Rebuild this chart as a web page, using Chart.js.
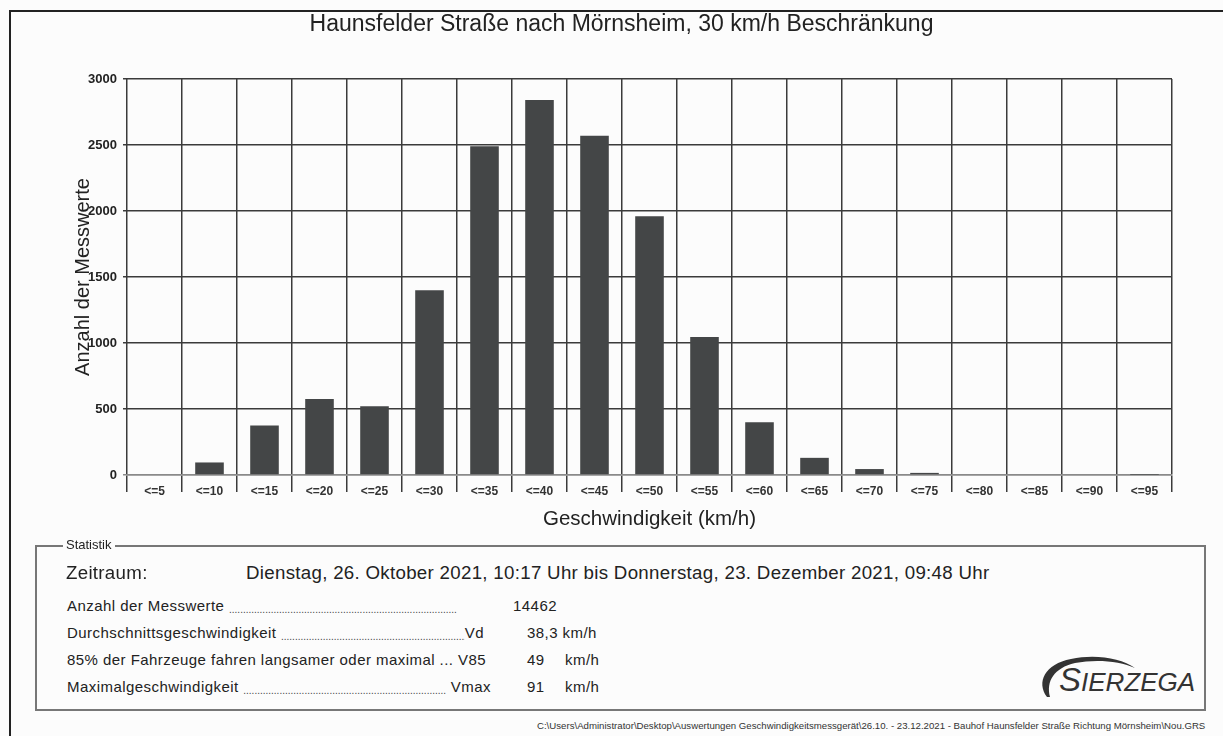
<!DOCTYPE html>
<html lang="de">
<head>
<meta charset="utf-8">
<title>Haunsfelder Straße nach Mörnsheim</title>
<script src="https://cdn.jsdelivr.net/npm/chart.js@4.4.1/dist/chart.umd.min.js"></script>
<style>
  body { margin: 0; background: #fcfcfc; font-family: 'Liberation Sans', Arial, sans-serif; color: #222; }
  #page { position: relative; width: 1223px; height: 736px; overflow: hidden; }
  #frame { position: absolute; left: 9px; top: 10px; width: 1300px; height: 800px; border-left: 2px solid #222; border-top: 2px solid #222; }
  #chartBox { position: absolute; left: 0; top: 0; width: 1223px; height: 540px; }
  #stats { position: absolute; left: 35px; top: 545px; width: 1167px; height: 162px; border: 2px solid #777; }
  .abs { position: absolute; white-space: nowrap; }
  #statLabel { left: 63px; top: 537px; font-size: 13px; line-height: 16px; background: #fcfcfc; padding: 0 3px; }
  .big { font-size: 18.7px; line-height: 22px; letter-spacing: 0.3px; }
  .row { font-size: 15px; line-height: 20px; letter-spacing: 0.45px; }
  .lead { display: flex; }
  .dots { flex: 1; overflow: hidden; font-size: 10px; letter-spacing: 0; padding-top: 4px; color: #444; }
  #footer { right: 18px; top: 720px; font-size: 9px; line-height: 12px; transform-origin: right center; color: #333; }
  #logo { position: absolute; left: 1035px; top: 647px; }
</style>
</head>
<body>
<div id="page">
  <div id="frame"></div>
  <div id="chartBox"><canvas id="speedChart"></canvas></div>

  <div id="stats"></div>
  <div class="abs" id="statLabel">Statistik</div>
  <div class="abs big" style="left:66px; top:562px;">Zeitraum:</div>
  <div class="abs big" style="left:246px; top:562px;">Dienstag, 26. Oktober 2021, 10:17 Uhr bis Donnerstag, 23. Dezember 2021, 09:48 Uhr</div>

  <div class="abs row lead" style="left:67px; top:596px; width:390px;"><span>Anzahl der Messwerte&nbsp;</span><span class="dots">..............................................................................................................</span></div>
  <div class="abs row" style="left:513px; top:596px;">14462</div>

  <div class="abs row lead" style="left:67px; top:623px; width:417px;"><span>Durchschnittsgeschwindigkeit&nbsp;</span><span class="dots">..............................................................................................................</span><span>Vd</span></div>
  <div class="abs row" style="left:527px; top:623px;">38,3 km/h</div>

  <div class="abs row" style="left:67px; top:650px;">85% der Fahrzeuge fahren langsamer oder maximal ... V85</div>
  <div class="abs row" style="left:527px; top:650px;">49</div>
  <div class="abs row" style="left:565px; top:650px;">km/h</div>

  <div class="abs row lead" style="left:67px; top:677px; width:424px;"><span>Maximalgeschwindigkeit&nbsp;</span><span class="dots">..............................................................................................................</span><span>&nbsp;Vmax</span></div>
  <div class="abs row" style="left:527px; top:677px;">91</div>
  <div class="abs row" style="left:565px; top:677px;">km/h</div>

  <svg id="logo" width="170" height="56" viewBox="0 0 170 56">
    <path d="M 12 50 C 1 35, 10 17, 36 12 C 60 7, 86 11, 100 21 C 85 14, 61 12, 40 16 C 19 21, 11 34, 15 50 Z" fill="#333"/>
    <text x="24" y="44" font-family="Liberation Sans, Arial, sans-serif" font-style="italic" fill="#333"><tspan font-size="33">S</tspan><tspan font-size="26">IERZEGA</tspan></text>
  </svg>

  <div class="abs" id="footer">C:\Users\Administrator\Desktop\Auswertungen Geschwindigkeitsmessgerät\26.10. - 23.12.2021 - Bauhof Haunsfelder Straße Richtung Mörnsheim\Nou.GRS</div>
</div>

<script>
// Geschwindigkeitsklassen und Anzahl der Messwerte je Klasse
const speedClasses = ['<=5', '<=10', '<=15', '<=20', '<=25', '<=30', '<=35', '<=40', '<=45', '<=50',
                      '<=55', '<=60', '<=65', '<=70', '<=75', '<=80', '<=85', '<=90', '<=95'];
const counts = [0, 95, 375, 575, 520, 1400, 2490, 2840, 2570, 1960,
                1045, 400, 130, 45, 16, 0, 0, 0, 1];
const yMin = 0;
const yMax = 3000;
const yStep = 500;

const fontFamily = "'Liberation Sans', Arial, sans-serif";
Chart.defaults.font.family = fontFamily;

const gridDark = '#3b3b3b';
const zeroLine = '#8a8a8a';

const speedChart = new Chart(document.getElementById('speedChart').getContext('2d'), {
  type: 'bar',
  data: {
    labels: speedClasses,
    datasets: [{
      label: 'Anzahl der Messwerte',
      data: counts,
      backgroundColor: '#444647',
      borderWidth: 0,
      barPercentage: 0.52,
      categoryPercentage: 1.0
    }]
  },
  options: {
    responsive: true,
    maintainAspectRatio: false,
    animation: false,
    layout: { padding: { left: 71, right: 51, top: 0, bottom: 0 } },
    plugins: {
      legend: { display: false },
      tooltip: { enabled: false },
      title: {
        display: true,
        text: 'Haunsfelder Straße nach Mörnsheim, 30 km/h Beschränkung',
        color: '#222',
        font: { size: 23, weight: 'normal' },
        padding: { top: 11, bottom: 40.4 }
      }
    },
    scales: {
      x: {
        grid: { offset: true, color: gridDark, lineWidth: 1.5, tickLength: 17 },
        border: { display: true, color: zeroLine, width: 1.5 },
        ticks: {
          padding: -8,
          color: '#333',
          autoSkip: false,
          maxRotation: 0,
          font: { size: 12, weight: 'bold' }
        },
        title: {
          display: true,
          text: 'Geschwindigkeit (km/h)',
          color: '#222',
          font: { size: 20.5 },
          padding: { top: 0, bottom: 8 }
        },
        afterFit: (scale) => { scale.height = 65; }
      },
      y: {
        min: yMin,
        max: yMax,
        grid: {
          color: (ctx) => (ctx.tick && ctx.tick.value === 0 ? zeroLine : gridDark),
          lineWidth: 1.5,
          tickLength: 4
        },
        border: { display: false },
        ticks: {
          stepSize: yStep,
          padding: 6,
          color: '#222',
          font: { size: 13, weight: 'bold' },
          callback: (v) => String(v)
        },
        title: {
          display: true,
          text: 'Anzahl der Messwerte',
          color: '#222',
          font: { size: 20 },
          padding: { top: 0, bottom: 0 }
        },
        afterFit: (scale) => { scale.width = 56; }
      }
    }
  }
});

// Pfadzeile unten rechts auf die Breite der Vorlage bringen
const footer = document.getElementById('footer');
footer.style.transform = 'scaleX(' + (668 / footer.offsetWidth) + ')';
</script>
</body>
</html>
